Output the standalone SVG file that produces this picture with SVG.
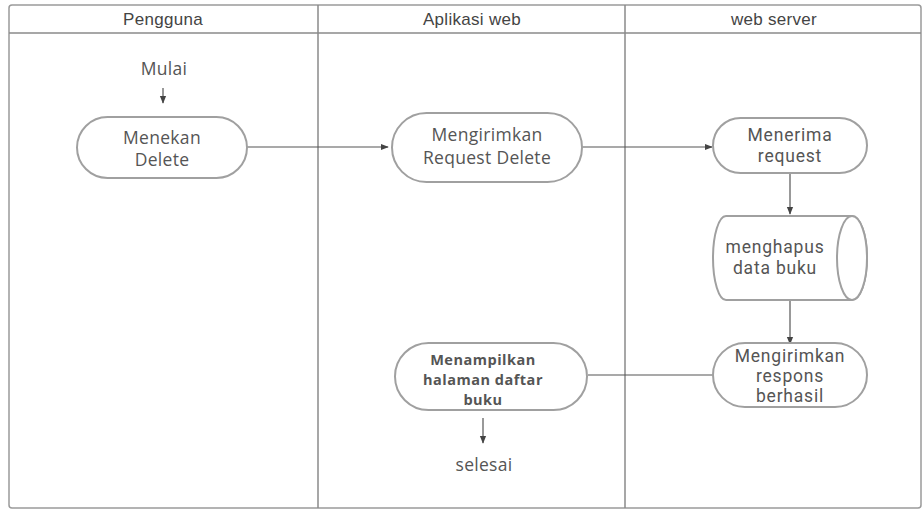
<svg xmlns="http://www.w3.org/2000/svg" width="923" height="510" viewBox="0 0 923 510">
<defs>
<style>
.frame{fill:#fff;stroke:#9a9a9a;stroke-width:1.5}
.div{stroke:#8a8a8a;stroke-width:1.5}
.hdr{font-family:"Liberation Sans",Arial,sans-serif;font-size:17px;fill:#444;text-anchor:middle;letter-spacing:0.3px}
.node{fill:#fff;stroke:#a0a0a0;stroke-width:2}
.t{font-family:"Open Sans","Noto Sans",sans-serif;font-size:17.5px;fill:#555;text-anchor:middle;letter-spacing:0.3px}
.tb{font-family:"Open Sans","Noto Sans",sans-serif;font-size:14.5px;font-weight:bold;fill:#555;text-anchor:middle;letter-spacing:0.5px}
.tr{font-family:Roboto,"Liberation Sans",sans-serif;font-size:17.5px;fill:#555;text-anchor:middle;letter-spacing:0.8px}
.c{stroke:#555;stroke-width:1.2;fill:none}
</style>
<marker id="ah" viewBox="0 0 10 10" refX="9" refY="5" markerWidth="8" markerHeight="8" orient="auto" markerUnits="userSpaceOnUse">
<path d="M0,1 L10,5 L0,9 z" fill="#444"/>
</marker>
</defs>
<rect width="923" height="510" fill="#fff"/>
<g id="swimlanes">
<rect class="frame" x="9" y="5" width="912" height="503" rx="3"/>
<line class="div" x1="9" y1="33" x2="921" y2="33"/>
<line class="div" x1="318" y1="5" x2="318" y2="508"/>
<line class="div" x1="625" y1="5" x2="625" y2="508"/>
<text class="hdr" x="163" y="25">Pengguna</text>
<text class="hdr" x="472" y="25">Aplikasi web</text>
<text class="hdr" x="774" y="25">web server</text>
</g>
<g id="connectors">
<line class="c" x1="163" y1="88" x2="163" y2="103" marker-end="url(#ah)"/>
<line class="c" x1="247" y1="147" x2="388" y2="147" marker-end="url(#ah)"/>
<line class="c" x1="582" y1="147" x2="712" y2="147" marker-end="url(#ah)"/>
<line class="c" x1="790" y1="173" x2="790" y2="214" marker-end="url(#ah)"/>
<line class="c" x1="790" y1="300" x2="790" y2="344" marker-end="url(#ah)"/>
<line class="c" x1="713" y1="375" x2="588" y2="375"/>
<line class="c" x1="483" y1="418" x2="483" y2="443" marker-end="url(#ah)"/>
</g>
<g id="mulai"><text class="t" x="164" y="75">Mulai</text></g>
<g id="menekan-delete">
<rect class="node" x="77" y="117" width="170" height="61" rx="30.5"/>
<text class="t" x="162" y="144">Menekan</text>
<text class="t" x="162" y="166">Delete</text>
</g>
<g id="mengirimkan-request">
<rect class="node" x="392" y="113" width="190" height="69" rx="34.5"/>
<text class="t" x="487" y="141">Mengirimkan</text>
<text class="t" x="487" y="164">Request Delete</text>
</g>
<g id="menerima-request">
<rect class="node" x="713" y="118" width="154" height="55" rx="27.5"/>
<text class="tr" x="790" y="141">Menerima</text>
<text class="tr" x="790" y="162">request</text>
</g>
<g id="menghapus-data">
<path class="node" d="M726,216 L852,216 A15,42 0 0 1 852,300 L726,300 A13,42 0 0 1 726,216 Z"/>
<ellipse class="node" cx="852" cy="258" rx="15" ry="42"/>
<text class="tr" x="775" y="253">menghapus</text>
<text class="tr" x="775" y="274">data buku</text>
</g>
<g id="mengirimkan-respons">
<rect class="node" x="713" y="343" width="154" height="64" rx="32"/>
<text class="tr" x="790" y="362">Mengirimkan</text>
<text class="tr" x="790" y="382">respons</text>
<text class="tr" x="790" y="402">berhasil</text>
</g>
<g id="menampilkan">
<rect class="node" x="395" y="343" width="192" height="67" rx="33.5"/>
<text class="tb" x="483" y="365">Menampilkan</text>
<text class="tb" x="483" y="385">halaman daftar</text>
<text class="tb" x="483" y="405">buku</text>
</g>
<g id="selesai"><text class="t" x="484" y="471">selesai</text></g>
</svg>
